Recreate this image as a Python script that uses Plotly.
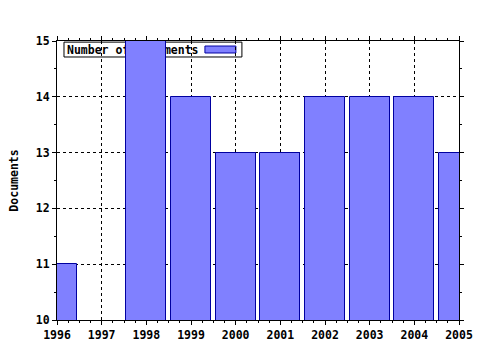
import plotly.graph_objects as go

years = [1996, 1997, 1998, 1999, 2000, 2001, 2002, 2003, 2004, 2005]
documents = [11, 10, 15, 14, 13, 13, 14, 14, 14, 13]
series_name = "Number of documents"
y_title = "Documents"
y_min, y_max = 10, 15

FONT = dict(family="DejaVu Sans Mono", size=11.5, color="black", weight="bold")
FILL = "#8080ff"
EDGE = "#0000a0"

edge_widths = [1 if v > y_min else 0 for v in documents]

fig = go.Figure()
fig.add_trace(go.Bar(
    x=years, y=documents, width=0.9, name=series_name,
    marker=dict(color=FILL, line=dict(color=EDGE, width=edge_widths)),
    showlegend=False, cliponaxis=True,
))

axis_common = dict(
    showline=True, linecolor="black", linewidth=1, mirror="ticks",
    ticks="outside", ticklen=4, tickcolor="black",
    showgrid=True, gridcolor="black", griddash="dot", gridwidth=1,
    zeroline=False, tickfont=FONT, automargin=False,
    minor=dict(ticks="outside", ticklen=2, tickcolor="black", showgrid=False),
)

fig.update_xaxes(range=[1996, 2005], dtick=1, tick0=1996,
                 minor_dtick=0.25, **axis_common)
fig.update_yaxes(range=[y_min, y_max], dtick=1, minor_dtick=0.5,
                 title=dict(text=y_title, font=FONT, standoff=14), **axis_common)

# legend box drawn beneath the bars, like the reference
fig.add_shape(type="rect", xref="paper", yref="paper",
              x0=0.0174, x1=0.460, y0=0.9427, y1=0.996,
              fillcolor="white", line=dict(color="black", width=1),
              layer="between",
              label=dict(text=series_name, font=FONT,
                         textposition="middle left", padding=0))
fig.add_shape(type="rect", xref="paper", yref="paper",
              x0=0.368, x1=0.445, y0=0.957, y1=0.982,
              fillcolor=FILL, line=dict(color=EDGE, width=1),
              layer="between")

fig.update_layout(
    width=480, height=350,
    margin=dict(l=57, r=21, t=41, b=30),
    paper_bgcolor="white", plot_bgcolor="white",
    font=FONT, bargap=0,
)

fig.write_html("out.html")
